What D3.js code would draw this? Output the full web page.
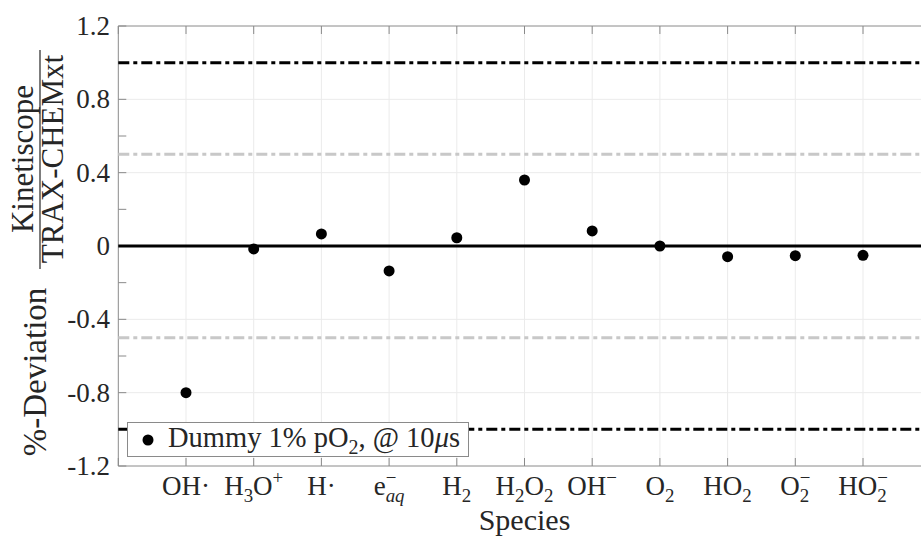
<!DOCTYPE html>
<html><head><meta charset="utf-8">
<script src="https://cdn.jsdelivr.net/npm/d3@7"></script>
<style>
html,body{margin:0;padding:0;background:#fff;}
svg{display:block;}
text{font-family:"Liberation Serif","DejaVu Serif",serif;fill:#262626;}
</style></head>
<body><svg id="chart" width="921" height="538"></svg>
<script>
// ---- data ----
const categories = ["OH·","H3O+","H·","e_aq-","H2","H2O2","OH-","O2","HO2","O2-","HO2-"];
const values = [-0.80, -0.016, 0.066, -0.136, 0.045, 0.36, 0.082, 0.0, -0.058, -0.053, -0.051];
const yTicks = [-1.2,-0.8,-0.4,0,0.4,0.8,1.2];
const yTickLabels = ["-1.2","-0.8","-0.4","0","0.4","0.8","1.2"];
const yMinorTicks = [-1.0,-0.6,-0.2,0.2,0.6,1.0];
const refLinesBlack = [-1, 1];
const refLinesGray = [-0.5, 0.5];
// label pieces (subscripts / superscripts)
const labelPieces = [
  [{t:"OH·"}],
  [{t:"H"},{t:"3",sub:1},{t:"O"},{t:"+",sup:1}],
  [{t:"H·"}],
  [{t:"e"},{t:"−",sup:1},{t:"aq",sub:1,it:1,stack:1}],
  [{t:"H"},{t:"2",sub:1}],
  [{t:"H"},{t:"2",sub:1},{t:"O"},{t:"2",sub:1}],
  [{t:"OH"},{t:"−",sup:1}],
  [{t:"O"},{t:"2",sub:1}],
  [{t:"HO"},{t:"2",sub:1}],
  [{t:"O"},{t:"2",sub:1},{t:"−",sup:1,stack:1}],
  [{t:"HO"},{t:"2",sub:1},{t:"−",sup:1,stack:1}]
];

const svg = d3.select("#chart");
const L = 118.3, R = 930.7, T = 26, B = 466;
const x = d3.scaleLinear().domain([0,12]).range([L,R]);
const y = d3.scaleLinear().domain([-1.2,1.2]).range([B,T]);
const xTicks = d3.range(0,13);

// grid
const grid = svg.append("g");
grid.selectAll("line.gx").data(xTicks.slice(1)).join("line")
  .attr("x1",d=>x(d)).attr("x2",d=>x(d)).attr("y1",T).attr("y2",B)
  .attr("stroke","#ebebeb").attr("stroke-width",1);
grid.selectAll("line.gy").data(yTicks.slice(1,-1)).join("line")
  .attr("x1",L).attr("x2",R).attr("y1",d=>y(d)).attr("y2",d=>y(d))
  .attr("stroke","#ebebeb").attr("stroke-width",1);

// axes frame
const axisColor = "#8a8a8a";
svg.append("line").attr("x1",L).attr("x2",R).attr("y1",T).attr("y2",T).attr("stroke",axisColor);
svg.append("line").attr("x1",L).attr("x2",R).attr("y1",B).attr("y2",B).attr("stroke",axisColor);
svg.append("line").attr("x1",L).attr("x2",L).attr("y1",T).attr("y2",B).attr("stroke",axisColor);
svg.selectAll("line.xt").data(xTicks).join("line")
  .attr("x1",d=>x(d)).attr("x2",d=>x(d)).attr("y1",B).attr("y2",B-8).attr("stroke",axisColor);
svg.selectAll("line.xt2").data(xTicks).join("line")
  .attr("x1",d=>x(d)).attr("x2",d=>x(d)).attr("y1",T).attr("y2",T+8).attr("stroke",axisColor);
svg.selectAll("line.yt").data(yTicks.concat(yMinorTicks)).join("line")
  .attr("x1",L).attr("x2",L+8).attr("y1",d=>y(d)).attr("y2",d=>y(d)).attr("stroke",axisColor);

// y tick labels
svg.selectAll("text.yl").data(yTicks).join("text")
  .attr("x",110).attr("y",d=>y(d)).attr("dy","0.33em")
  .attr("text-anchor","end").attr("font-size",27)
  .text((d,i)=>yTickLabels[i]);

// reference lines
svg.selectAll("line.rg").data(refLinesGray).join("line")
  .attr("x1",L).attr("x2",R).attr("y1",d=>y(d)).attr("y2",d=>y(d))
  .attr("stroke","#c8c8c8").attr("stroke-width",3).attr("stroke-dasharray","11,4,4,4");
svg.selectAll("line.rb").data(refLinesBlack).join("line")
  .attr("x1",L).attr("x2",R).attr("y1",d=>y(d)).attr("y2",d=>y(d))
  .attr("stroke","#000").attr("stroke-width",3).attr("stroke-dasharray","11,4,4,4");
svg.append("line").attr("x1",L).attr("x2",R).attr("y1",y(0)).attr("y2",y(0))
  .attr("stroke","#000").attr("stroke-width",3);

// points
svg.selectAll("circle.pt").data(values).join("circle")
  .attr("cx",(d,i)=>x(i+1)).attr("cy",d=>y(d)).attr("r",5.5).attr("fill","#000");

// x tick labels
const FS = 27;
labelPieces.forEach((pieces,i)=>{
  const g = svg.append("g");
  let cursor = 0, prevStart = 0, prevW = 0;
  pieces.forEach(p=>{
    const small = p.sub || p.sup;
    const start = p.stack ? prevStart : cursor;
    const t = g.append("text").attr("x",start)
      .attr("y", p.sub ? 7 : (p.sup ? -11 : 0))
      .attr("font-size", small ? FS*0.7 : FS)
      .attr("font-style", p.it ? "italic" : null)
      .text(p.t);
    const w = t.node().getComputedTextLength();
    if (p.stack) { cursor = prevStart + Math.max(prevW, w); }
    else { prevStart = start; prevW = w; cursor = start + w; }
  });
  g.attr("transform",`translate(${x(i+1)-cursor/2},495)`);
});

// x label
svg.append("text").attr("x",(L+R)/2).attr("y",530).attr("text-anchor","middle")
  .attr("font-size",30).text("Species");

// y label (rotated)
const yl = svg.append("g").attr("transform","rotate(-90)");
yl.append("text").attr("x",-372).attr("y",46).attr("text-anchor","middle")
  .attr("font-size",33).text("%-Deviation");
yl.append("text").attr("x",-159).attr("y",33).attr("text-anchor","middle")
  .attr("font-size",31).text("Kinetiscope");
yl.append("text").attr("x",-159).attr("y",63).attr("text-anchor","middle")
  .attr("font-size",31).text("TRAX-CHEMxt");
yl.append("line").attr("x1",-269).attr("x2",-50).attr("y1",40).attr("y2",40)
  .attr("stroke","#262626").attr("stroke-width",1.2);

// legend
const lg = svg.append("g");
lg.append("rect").attr("x",127.5).attr("y",422.5).attr("width",341).attr("height",34)
  .attr("fill","#fff").attr("stroke","#8a8a8a").attr("stroke-width",1);
lg.append("circle").attr("cx",148).attr("cy",440).attr("r",5.5).attr("fill","#000");
const lt = lg.append("text").attr("x",168).attr("y",447).attr("font-size",28.5);
lt.append("tspan").text("Dummy 1% pO");
lt.append("tspan").attr("font-size",20).attr("dy",7).text("2");
lt.append("tspan").attr("dy",-7).text(", @ 10");
lt.append("tspan").attr("font-style","italic").text("μ");
lt.append("tspan").text("s");
</script></body></html>
